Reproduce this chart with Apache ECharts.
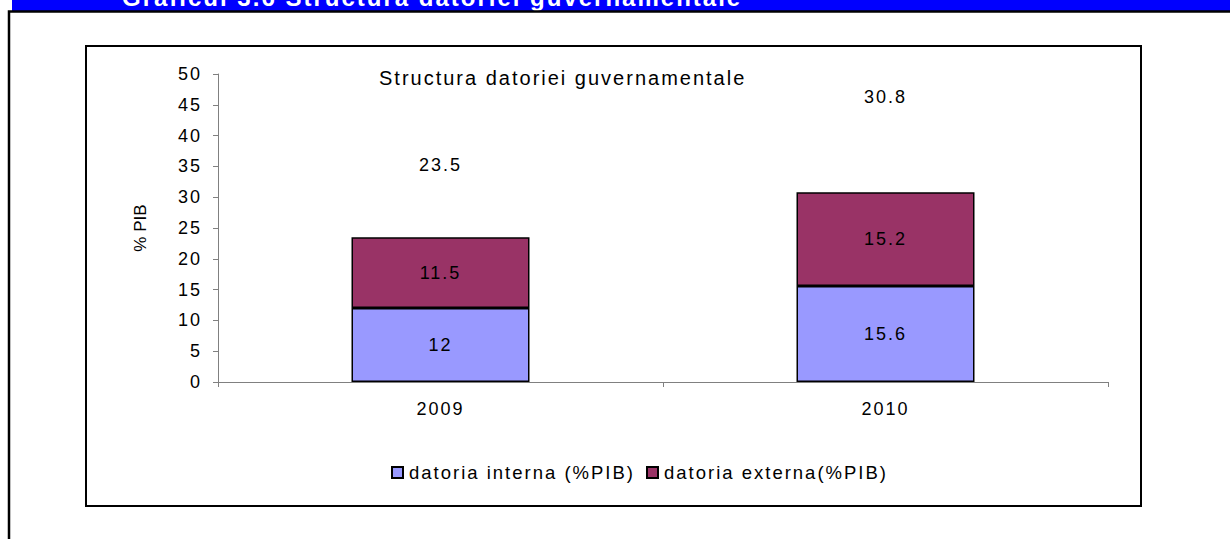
<!DOCTYPE html>
<html>
<head>
<meta charset="utf-8">
<title>Structura datoriei guvernamentale</title>
<script src="https://cdn.jsdelivr.net/npm/echarts@6/dist/echarts.min.js"></script>
<style>
    html, body { margin: 0; padding: 0; background: #fff; }
    #main { width: 1230px; height: 539px; }
    /* textul din original e "latit" pe orizontala */
    #main svg text { letter-spacing: 2px; }
    /* dar nu si titlul axei Y (rotit) */
    #main svg text[transform^="matrix(0"] { letter-spacing: 0; }
</style>
</head>
<body>
<div id="main"></div>
<script>
// date
var years = ['2009', '2010'];
var datoriaInterna = [12, 15.6];
var datoriaExterna = [11.5, 15.2];
var totalLabels = [23.5, 30.8];   // seria "total" din Excel, transparenta
var yTicks = { min: 0, max: 50, step: 5 };

var FONT = 'Liberation Sans, Arial, sans-serif';

// 基于准备好的dom，初始化echarts实例
var myChart = echarts.init(document.getElementById('main'), null, { renderer: 'svg' });
var option;

option = {
    animation: false,
    textStyle: { fontFamily: FONT },
    title: {
        text: 'Structura datoriei guvernamentale',
        left: 374,
        top: 63,
        textStyle: { fontSize: 20, fontWeight: 'normal', color: '#000', fontFamily: FONT }
    },
    // doua legende separate ca sa pot pozitiona fiecare element
    legend: [
        {
            data: ['datoria interna (%PIB)'],
            left: 391,
            top: 463,
            padding: 0,
            icon: 'rect',
            itemWidth: 11,
            itemHeight: 11,
            textStyle: { fontSize: 18.5, color: '#000', fontFamily: FONT, padding: [0, 0, 0, 1] }
        },
        {
            data: ['datoria externa(%PIB)'],
            left: 646,
            top: 463,
            padding: 0,
            icon: 'rect',
            itemWidth: 11,
            itemHeight: 11,
            textStyle: { fontSize: 18.5, color: '#000', fontFamily: FONT, padding: [0, 0, 0, 1] }
        }
    ],
    grid: {
        left: 218,
        right: 122,
        top: 74,
        bottom: 157,
        containLabel: false
    },
    xAxis: {
        type: 'category',
        data: years,
        axisLine: { lineStyle: { color: '#808080', width: 1 } },
        axisTick: { show: true, length: 5, lineStyle: { color: '#808080' } },
        axisLabel: { fontSize: 18, color: '#000', margin: 18, fontFamily: FONT },
        splitLine: { show: false }
    },
    yAxis: {
        type: 'value',
        name: '% PIB',
        nameLocation: 'middle',
        nameGap: 69,
        nameRotate: 90,
        nameTextStyle: { fontSize: 17, color: '#000', fontFamily: FONT },
        min: yTicks.min,
        max: yTicks.max,
        interval: yTicks.step,
        axisLine: { show: true, lineStyle: { color: '#808080', width: 1 } },
        axisTick: { show: true, length: 5, lineStyle: { color: '#808080' } },
        axisLabel: { fontSize: 18, color: '#000', margin: 16, fontFamily: FONT },
        splitLine: { show: false }
    },
    series: [
        {
            name: 'datoria interna (%PIB)',
            type: 'bar',
            stack: 'datorie',
            barWidth: '40%',
            data: datoriaInterna,
            itemStyle: { color: '#9999FF', borderColor: '#000', borderWidth: 1.5 },
            label: { show: true, position: 'inside', fontSize: 18, color: '#000', fontFamily: FONT }
        },
        {
            name: 'datoria externa(%PIB)',
            type: 'bar',
            stack: 'datorie',
            data: datoriaExterna,
            itemStyle: { color: '#993366', borderColor: '#000', borderWidth: 1.5 },
            label: { show: true, position: 'inside', fontSize: 18, color: '#000', fontFamily: FONT }
        },
        {
            // bara invizibila doar pentru eticheta totalului
            name: 'total',
            type: 'bar',
            stack: 'datorie',
            clip: false,
            silent: true,
            data: totalLabels,
            itemStyle: { color: 'rgba(0,0,0,0)', borderWidth: 0 },
            label: { show: true, position: 'inside', fontSize: 18, color: '#000', fontFamily: FONT }
        }
    ],
    graphic: [
        // banda albastra de sus, cu titlul taiat
        {
            type: 'rect',
            shape: { x: 12, y: 0, width: 1218, height: 11 },
            style: { fill: '#0000FF' },
            z: 10
        },
        {
            type: 'text',
            x: 122,
            y: 9,
            style: {
                text: 'Graficul 3.6 Structura datoriei guvernamentale',
                font: 'bold 24px ' + FONT,
                fill: '#fff',
                textVerticalAlign: 'bottom'
            },
            z: 11
        },
        // chenarul exterior
        {
            type: 'polyline',
            shape: { points: [[9, 539], [9, 11.5], [1230, 11.5]] },
            style: { stroke: '#000', lineWidth: 2.5, fill: null },
            z: 12
        },
        // chenarul graficului
        {
            type: 'rect',
            shape: { x: 86, y: 46, width: 1055, height: 460 },
            style: { stroke: '#000', lineWidth: 2, fill: null },
            z: 12
        }
    ]
};

// 视口调整后重新渲染echart图表
window.onresize = myChart.resize;

// 使用刚指定的配置项和数据显示图表。
myChart.setOption(option);
</script>
</body>
</html>
